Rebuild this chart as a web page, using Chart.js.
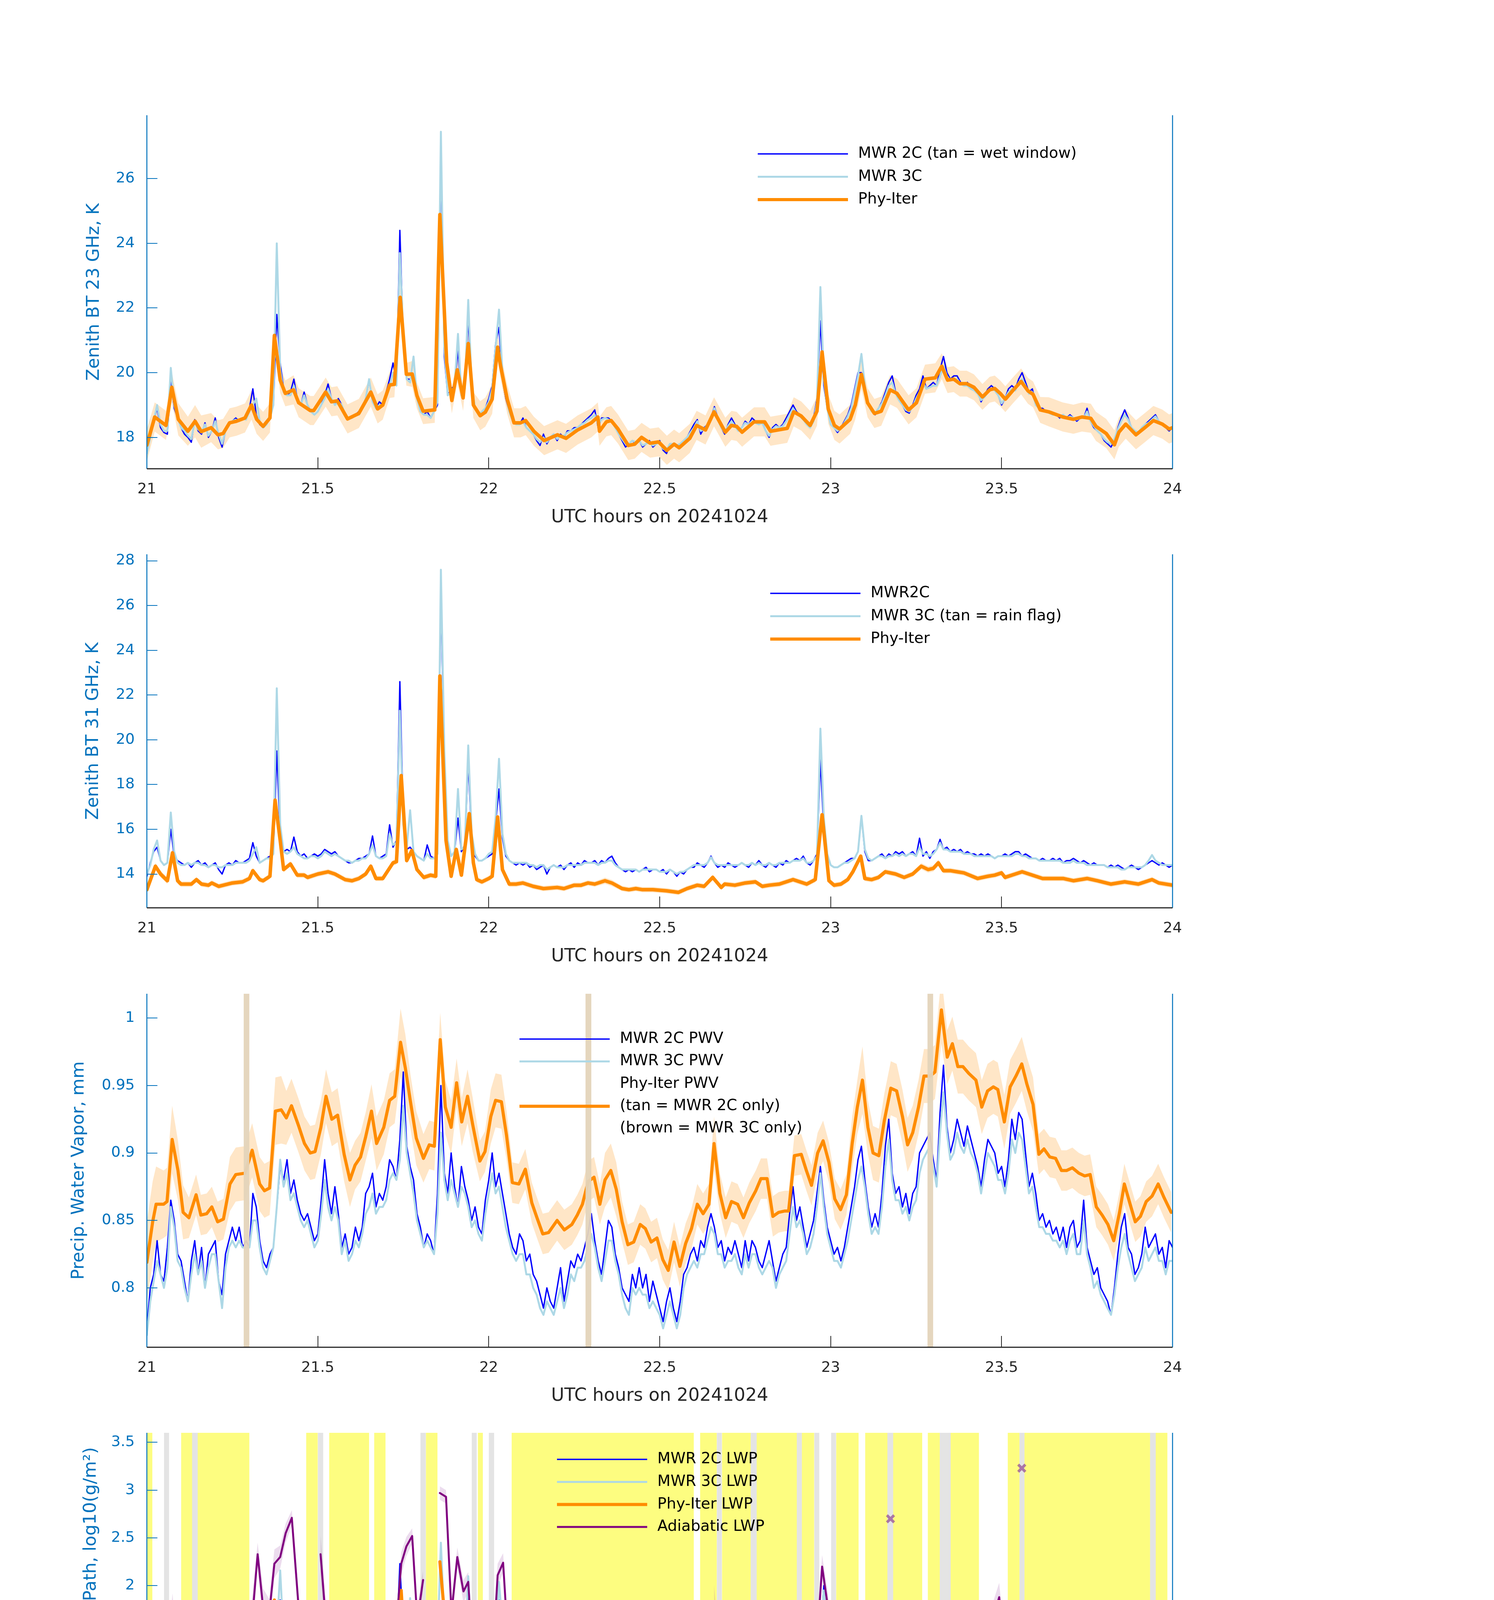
<!DOCTYPE html>
<html>
<head>
<meta charset="utf-8">
<script src="https://cdn.jsdelivr.net/npm/chart.js@4.4.1/dist/chart.umd.min.js"></script>
<style>
  html, body { margin: 0; padding: 0; background: #fff; }
  #fig { position: relative; width: 3825px; height: 6000px; background: #fff; }
  #fig canvas { position: absolute; left: 0; }
</style>
</head>
<body>
<div id="fig">
  <canvas id="bt23"></canvas>
  <canvas id="bt31"></canvas>
  <canvas id="pwv"></canvas>
  <canvas id="lwp"></canvas>
  <canvas id="dq"></canvas>
</div>
<script>
// ---------- data (UTC hours on 20241024) ----------
const tStart = 21;
const mwrStep = 0.01;     // MWR samples
const dqStep = 0.0125;    // Phy-Iter retrievals

// panel 1: 23 GHz zenith BT
const p1Mwr2c = [
  17.7, 18.1, 18.5, 18.9, 18.3, 18.15, 18.1, 19.8, 18.9, 18.6,
  18.3, 18.1, 18.0, 17.85, 18.55, 18.2, 18.1, 18.45, 18.0, 18.2,
  18.6, 18.0, 17.7, 18.2, 18.4, 18.5, 18.6, 18.5, 18.6, 18.6,
  18.9, 19.5, 18.7, 18.4, 18.3, 18.4, 18.6, 19.0, 21.8, 20.3,
  19.5, 19.3, 19.4, 19.8, 19.2, 19.0, 19.4, 19.0, 18.8, 18.7,
  18.8, 19.0, 19.3, 19.65, 19.2, 19.0, 19.2, 19.0, 18.7, 18.6,
  18.6, 18.7, 18.8, 18.9, 19.2, 19.75, 19.2, 18.9, 19.1, 19.0,
  19.4, 19.8, 20.3, 19.7, 24.4, 21.0, 19.8, 19.8, 19.9, 19.2,
  18.8, 18.7, 18.8, 18.6, 18.8, 19.0, 26.7, 20.5, 19.3, 19.5,
  19.6, 20.7, 19.3, 19.6, 21.7, 19.5, 18.9, 18.7, 18.8, 18.9,
  19.2, 19.6, 20.9, 21.4, 19.8, 19.2, 18.8, 18.5, 18.4, 18.4,
  18.6, 18.3, 18.2, 18.1, 17.9, 17.75, 18.1, 17.8, 18.0, 18.1,
  17.9, 18.1, 18.0, 18.2, 18.2, 18.3, 18.3, 18.4, 18.5, 18.6,
  18.7, 18.85, 18.3, 18.6, 18.6, 18.6, 18.5, 18.3, 18.1, 17.9,
  17.7, 17.8, 17.9, 17.8, 17.9, 17.7, 17.8, 17.9, 17.7, 17.8,
  17.9, 17.6, 17.5, 17.8, 17.8, 17.7, 17.8, 17.9, 18.0, 18.2,
  18.4, 18.55, 18.1, 18.3, 18.4, 18.6, 18.95, 18.6, 18.3, 18.1,
  18.4, 18.6, 18.4, 18.2, 18.3, 18.5, 18.4, 18.6, 18.5, 18.4,
  18.5, 18.2, 18.0, 18.3, 18.4, 18.3, 18.4, 18.6, 18.8, 19.0,
  18.8, 18.7, 18.6, 18.4, 18.3, 18.6, 19.2, 21.6, 19.6, 18.9,
  18.4, 18.3, 18.15, 18.3, 18.5, 18.7, 19.0, 19.5, 20.0, 20.0,
  19.5, 19.0, 18.8, 18.7, 18.9, 19.1, 19.4, 19.7, 19.9, 19.4,
  19.2, 19.0, 18.8, 18.75, 19.0, 19.3, 19.5, 19.9, 19.5, 19.6,
  19.7, 19.6, 20.1, 20.5, 20.0, 19.8, 19.9, 19.9, 19.7, 19.6,
  19.7, 19.5, 19.5, 19.4, 19.1, 19.3, 19.5, 19.6, 19.5, 19.3,
  19.0, 19.2, 19.5, 19.6, 19.5, 19.8, 20.0, 19.7, 19.4, 19.5,
  19.0, 18.9, 18.9, 18.8, 18.8, 18.7, 18.7, 18.6, 18.7, 18.6,
  18.7, 18.6, 18.5, 18.6, 18.6, 18.9, 18.5, 18.3, 18.2, 18.1,
  17.9, 17.8, 17.7, 17.9, 18.3, 18.6, 18.85, 18.6, 18.3, 18.2,
  18.1, 18.3, 18.4, 18.5, 18.6, 18.7, 18.5, 18.4, 18.3, 18.2,
  18.3
];
const p1Mwr3c = [
  17.5, 18.0, 18.5, 19.0, 18.4, 18.2, 18.2, 20.15, 19.0, 18.6,
  18.3, 18.2, 18.05, 17.95, 18.5, 18.25, 18.15, 18.4, 18.05, 18.2,
  18.5, 18.1, 17.8, 18.2, 18.4, 18.5, 18.55, 18.5, 18.6, 18.55,
  18.8, 19.0, 19.2, 18.5, 18.3, 18.4, 18.6, 19.0, 24.0, 20.1,
  19.4, 19.3, 19.3, 19.6, 19.2, 19.0, 19.3, 19.0, 18.8, 18.7,
  18.8, 19.0, 19.2, 19.5, 19.2, 19.0, 19.1, 19.0, 18.7, 18.6,
  18.6, 18.7, 18.7, 18.9, 19.2, 19.8, 19.1, 18.9, 19.0, 19.0,
  19.3, 19.6, 20.0, 19.6, 23.7, 21.2, 19.8, 19.7, 20.5, 19.2,
  18.8, 18.7, 18.7, 18.6, 18.8, 19.1, 27.45, 20.8, 19.3, 19.4,
  19.6, 21.2, 19.3, 19.5, 22.25, 19.6, 18.9, 18.7, 18.8, 18.9,
  19.1, 19.5, 20.8, 21.95, 20.0, 19.3, 18.8, 18.5, 18.4, 18.4,
  18.5, 18.3, 18.2, 18.1, 17.95, 17.85, 18.0, 17.85, 18.0, 18.1,
  17.95, 18.05, 18.05, 18.15, 18.2, 18.25, 18.3, 18.4, 18.45, 18.55,
  18.6, 18.7, 18.4, 18.55, 18.6, 18.55, 18.5, 18.3, 18.1, 17.95,
  17.8, 17.8, 17.9, 17.85, 17.9, 17.75, 17.8, 17.85, 17.75, 17.8,
  17.85, 17.65, 17.6, 17.8, 17.8, 17.75, 17.8, 17.9, 18.0, 18.15,
  18.3, 18.5, 18.2, 18.25, 18.4, 18.55, 18.9, 18.55, 18.3, 18.15,
  18.35, 18.5, 18.35, 18.2, 18.3, 18.45, 18.4, 18.5, 18.45, 18.4,
  18.45, 18.2, 18.05, 18.25, 18.35, 18.3, 18.35, 18.5, 18.7, 18.9,
  18.75, 18.65, 18.55, 18.4, 18.3, 18.5, 19.1, 22.65, 19.8, 18.9,
  18.4, 18.3, 18.2, 18.3, 18.45, 18.65, 18.9, 19.4, 19.9, 20.58,
  19.6, 19.0, 18.8, 18.75, 18.9, 19.05, 19.3, 19.6, 19.7, 19.35,
  19.15, 19.0, 18.85, 18.8, 18.95, 19.2, 19.4, 19.7, 19.5, 19.55,
  19.6, 19.6, 19.9, 20.2, 19.9, 19.75, 19.8, 19.8, 19.65, 19.6,
  19.6, 19.5, 19.45, 19.35, 19.15, 19.25, 19.4, 19.5, 19.45, 19.3,
  19.05, 19.2, 19.4, 19.5, 19.45, 19.7, 19.8, 19.6, 19.35, 19.4,
  19.0, 18.9, 18.85, 18.8, 18.75, 18.7, 18.7, 18.65, 18.7, 18.6,
  18.65, 18.6, 18.55, 18.6, 18.6, 18.8, 18.5, 18.35, 18.2, 18.1,
  17.95, 17.85, 17.8, 17.95, 18.25, 18.5, 18.7, 18.55, 18.3, 18.2,
  18.15, 18.3, 18.4, 18.45, 18.55, 18.65, 18.5, 18.4, 18.3, 18.25,
  18.3
];
const p1PhyX = [
  21.0, 21.023, 21.056, 21.073, 21.092, 21.12, 21.141, 21.159, 21.188, 21.208,
  21.223, 21.242, 21.262, 21.287, 21.306, 21.321, 21.34, 21.36, 21.373, 21.39,
  21.405, 21.429, 21.444, 21.478, 21.488, 21.503, 21.523, 21.54, 21.557, 21.587,
  21.62, 21.655, 21.675, 21.69, 21.71, 21.724, 21.741, 21.759, 21.776, 21.79,
  21.808, 21.842, 21.857, 21.877, 21.892, 21.908, 21.925, 21.94, 21.955, 21.975,
  21.99, 22.01, 22.026, 22.034, 22.054, 22.074, 22.093, 22.108, 22.132, 22.162,
  22.201, 22.226, 22.26, 22.3, 22.319, 22.324, 22.344, 22.358, 22.378, 22.408,
  22.427, 22.447, 22.472, 22.497, 22.521, 22.542, 22.557, 22.588, 22.608, 22.634,
  22.659, 22.692, 22.71, 22.725, 22.741, 22.776, 22.807, 22.824, 22.873, 22.892,
  22.914, 22.94, 22.96, 22.975, 22.993, 23.011, 23.026, 23.057, 23.072, 23.09,
  23.108, 23.128, 23.148, 23.174, 23.194, 23.228, 23.251, 23.276, 23.306, 23.325,
  23.342, 23.36, 23.378, 23.398, 23.419, 23.444, 23.465, 23.48, 23.496, 23.511,
  23.532, 23.557, 23.577, 23.592, 23.613, 23.638, 23.679, 23.71, 23.735, 23.761,
  23.776, 23.806, 23.83, 23.843, 23.863, 23.893, 23.919, 23.944, 23.97, 23.99,
  24.0
];
const p1PhyY = [
  17.76, 18.63, 18.37, 19.55, 18.56, 18.19, 18.5, 18.18, 18.3, 18.08,
  18.12, 18.45, 18.5, 18.6, 19.0, 18.56, 18.34, 18.6, 21.15, 19.77,
  19.36, 19.47, 19.07, 18.83, 18.83, 19.07, 19.4, 19.1, 19.13, 18.57,
  18.74, 19.4, 18.88, 19.0, 19.62, 19.64, 22.33, 19.95, 19.96, 19.29,
  18.81, 18.85, 24.89, 20.31, 19.14, 20.09, 19.22, 20.9, 19.0, 18.67,
  18.78, 19.18, 20.79, 20.24, 19.18, 18.45, 18.45, 18.52, 18.19, 17.9,
  18.08, 17.97, 18.23, 18.45, 18.63, 18.19, 18.48, 18.52, 18.26, 17.75,
  17.79, 18.0, 17.82, 17.86, 17.6, 17.79, 17.68, 17.97, 18.37, 18.23,
  18.79, 18.16, 18.37, 18.34, 18.16, 18.48, 18.48, 18.19, 18.28, 18.79,
  18.66, 18.37, 18.81, 20.64, 18.88, 18.37, 18.26, 18.56, 19.0, 19.95,
  19.07, 18.74, 18.81, 19.47, 19.36, 18.85, 19.07, 19.8, 19.84, 20.2,
  19.77, 19.8, 19.66, 19.66, 19.55, 19.25, 19.47, 19.51, 19.36, 19.18,
  19.44, 19.73, 19.44, 19.33, 18.85, 18.79, 18.63, 18.56, 18.63, 18.59,
  18.34, 18.12, 17.77, 18.16, 18.41, 18.08, 18.3, 18.52, 18.41, 18.26,
  18.3
];
const p1PhyUnc = [
  0.5, 0.45, 0.45, 0.45, 0.5, 0.45, 0.5, 0.5, 0.45, 0.45,
  0.45, 0.45, 0.45, 0.45, 0.45, 0.45, 0.45, 0.45, 0.3, 0.4,
  0.4, 0.45, 0.45, 0.45, 0.45, 0.45, 0.45, 0.45, 0.45, 0.45,
  0.45, 0.45, 0.45, 0.45, 0.4, 0.4, 0.3, 0.35, 0.4, 0.4,
  0.4, 0.4, 0.3, 0.4, 0.4, 0.4, 0.4, 0.4, 0.4, 0.45,
  0.45, 0.45, 0.4, 0.4, 0.45, 0.45, 0.45, 0.45, 0.45, 0.45,
  0.45, 0.45, 0.45, 0.45, 0.45, 0.45, 0.45, 0.45, 0.45, 0.45,
  0.45, 0.45, 0.45, 0.45, 0.45, 0.45, 0.45, 0.45, 0.45, 0.45,
  0.45, 0.45, 0.45, 0.45, 0.45, 0.45, 0.45, 0.45, 0.45, 0.45,
  0.45, 0.45, 0.45, 0.4, 0.45, 0.45, 0.45, 0.45, 0.45, 0.45,
  0.45, 0.45, 0.45, 0.45, 0.45, 0.45, 0.45, 0.45, 0.45, 0.4,
  0.4, 0.4, 0.4, 0.4, 0.4, 0.4, 0.4, 0.4, 0.4, 0.4,
  0.4, 0.4, 0.4, 0.4, 0.4, 0.45, 0.45, 0.45, 0.45, 0.45,
  0.45, 0.45, 0.45, 0.45, 0.45, 0.45, 0.45, 0.45, 0.45, 0.45,
  0.45
];

// panel 2: 31 GHz zenith BT
const p2Mwr2c = [
  13.9, 14.5, 15.0, 15.2, 14.6, 14.4, 14.5, 16.0, 14.8, 14.6,
  14.5, 14.4, 14.5, 14.3, 14.5, 14.6, 14.4, 14.5, 14.3, 14.4,
  14.5, 14.2, 14.0, 14.4, 14.5, 14.4, 14.6, 14.5, 14.5, 14.6,
  14.7, 15.4, 14.8, 14.5, 14.6, 14.7, 14.8, 14.9, 19.5, 15.8,
  15.0, 15.1, 15.0, 15.65, 15.0, 14.8, 14.9, 14.7, 14.8, 14.9,
  14.8, 14.9, 15.1, 15.0, 14.9, 15.0, 14.8, 14.7, 14.6, 14.5,
  14.5, 14.6, 14.7, 14.7, 14.8, 14.9, 15.7, 14.8, 14.7, 14.8,
  14.9, 16.2, 15.2, 15.5, 22.6, 16.5, 15.1, 15.2, 15.0, 14.8,
  14.7, 14.6, 15.3, 14.8, 14.7, 14.9, 26.5, 19.0, 15.5, 14.8,
  15.0, 16.5, 15.0, 15.3, 19.0, 15.6, 14.8, 14.6, 14.6, 14.7,
  14.8, 14.9, 16.3, 17.8, 15.6, 14.8, 14.6, 14.5, 14.4, 14.5,
  14.4, 14.5, 14.3, 14.4, 14.2, 14.3, 14.4, 14.0, 14.3, 14.4,
  14.3, 14.4, 14.2, 14.4, 14.5, 14.3, 14.5, 14.4, 14.6, 14.5,
  14.5, 14.6, 14.4, 14.6, 14.5, 14.7, 14.8, 14.5, 14.3, 14.2,
  14.1, 14.2, 14.1, 14.2, 14.1, 14.2, 14.3, 14.1, 14.2, 14.2,
  14.1, 14.2, 14.0, 14.2, 14.1, 13.9, 14.1, 14.0, 14.2, 14.3,
  14.3, 14.5, 14.4, 14.3, 14.5, 14.8, 14.5, 14.3, 14.4, 14.3,
  14.5, 14.4, 14.3, 14.4, 14.5, 14.4, 14.3, 14.5, 14.4, 14.6,
  14.4, 14.3, 14.5, 14.4, 14.3, 14.5, 14.4, 14.6, 14.5, 14.6,
  14.7, 14.6, 14.8, 14.5, 14.4, 14.6, 14.9, 19.1, 16.0, 14.8,
  14.4, 14.3, 14.3, 14.4, 14.5, 14.6, 14.7, 14.7, 15.0, 16.6,
  15.0, 14.6, 14.6, 14.7, 14.8, 14.9, 14.7, 14.9, 14.8, 15.0,
  14.9, 15.0, 14.8, 14.9, 15.0, 14.8, 15.6, 14.8, 15.0, 14.7,
  15.0, 15.1, 15.55, 15.1, 15.2, 15.0, 15.1, 15.0, 15.1, 14.9,
  15.0, 14.9, 14.9, 14.8, 14.9, 14.8, 14.9, 14.8, 14.7, 14.8,
  14.8, 14.9, 14.8, 14.9, 15.0, 15.0, 14.8, 14.9, 14.8, 14.7,
  14.7, 14.6, 14.7, 14.6, 14.6, 14.7, 14.6, 14.7, 14.5, 14.6,
  14.6, 14.7, 14.6, 14.5, 14.6, 14.5, 14.4, 14.5, 14.4, 14.4,
  14.4, 14.3, 14.4, 14.3, 14.4, 14.3, 14.2, 14.3, 14.4, 14.3,
  14.2, 14.3, 14.4, 14.5, 14.6, 14.5, 14.4, 14.5, 14.4, 14.3,
  14.4
];
const p2Mwr3c = [
  14.0, 14.4, 15.1, 15.5, 14.6, 14.4, 14.5, 16.75, 15.0, 14.5,
  14.4, 14.4, 14.5, 14.4, 14.5, 14.5, 14.4, 14.4, 14.3, 14.4,
  14.4, 14.3, 14.3, 14.4, 14.4, 14.4, 14.5, 14.5, 14.5, 14.5,
  14.6, 14.9, 15.2, 14.5, 14.6, 14.7, 14.7, 14.9, 22.3, 16.2,
  15.0, 14.9, 15.0, 15.2, 14.9, 14.8, 14.7, 14.7, 14.8, 14.8,
  14.7, 14.8, 15.0, 14.9, 14.8, 14.9, 14.8, 14.7, 14.6, 14.6,
  14.5, 14.6, 14.6, 14.7, 14.7, 14.9, 15.3, 14.8, 14.7, 14.7,
  14.8, 15.8, 15.3, 15.4, 21.3, 16.2, 15.2, 16.85, 15.0, 14.8,
  14.7, 14.6, 14.9, 14.7, 14.7, 14.9, 27.6, 19.5, 15.5, 14.8,
  15.0, 17.8, 15.1, 15.2, 19.75, 15.8, 14.9, 14.6, 14.6, 14.7,
  14.9, 15.0, 16.5, 19.15, 15.8, 14.9, 14.6, 14.5, 14.5, 14.5,
  14.5, 14.5, 14.4, 14.4, 14.3, 14.4, 14.4, 14.2, 14.3, 14.4,
  14.3, 14.3, 14.3, 14.4, 14.4, 14.4, 14.4, 14.4, 14.5, 14.5,
  14.5, 14.5, 14.4, 14.5, 14.5, 14.6, 14.6, 14.4, 14.3, 14.2,
  14.2, 14.2, 14.2, 14.2, 14.1, 14.2, 14.2, 14.2, 14.2, 14.2,
  14.1, 14.1, 14.1, 14.2, 14.1, 14.0, 14.1, 14.1, 14.2, 14.3,
  14.4, 14.4, 14.4, 14.4, 14.5, 14.75, 14.5, 14.4, 14.4, 14.4,
  14.4, 14.4, 14.4, 14.4, 14.5, 14.4, 14.4, 14.5, 14.4, 14.5,
  14.4, 14.4, 14.5, 14.4, 14.4, 14.5, 14.5, 14.5, 14.5, 14.6,
  14.6, 14.6, 14.7, 14.5, 14.5, 14.6, 14.8, 20.5, 16.5, 14.9,
  14.4, 14.3, 14.3, 14.4, 14.5, 14.5, 14.6, 14.7, 15.0, 16.6,
  15.1, 14.7, 14.6, 14.7, 14.8, 14.8, 14.7, 14.8, 14.8, 14.9,
  14.8, 14.9, 14.8, 14.9, 14.9, 14.8, 15.2, 14.9, 14.9, 14.8,
  14.9, 15.1, 15.4, 15.1, 15.1, 15.0, 15.0, 15.0, 15.0, 14.9,
  14.9, 14.9, 14.8, 14.8, 14.8, 14.8, 14.8, 14.8, 14.7, 14.8,
  14.8, 14.8, 14.8, 14.8, 14.9, 14.9, 14.8, 14.8, 14.7, 14.7,
  14.7, 14.6, 14.6, 14.6, 14.6, 14.6, 14.6, 14.6, 14.5, 14.5,
  14.5, 14.6, 14.5, 14.5, 14.5, 14.4, 14.4, 14.4, 14.4, 14.4,
  14.4, 14.3, 14.3, 14.3, 14.3, 14.2, 14.2, 14.3, 14.3, 14.3,
  14.3, 14.3, 14.4, 14.6, 14.85, 14.6, 14.5, 14.4, 14.4, 14.4,
  14.4
];
const p2PhyX = [
  21.0, 21.025, 21.04, 21.06, 21.075, 21.09, 21.10, 21.13, 21.145, 21.16,
  21.18, 21.19, 21.21, 21.25, 21.28, 21.30, 21.31, 21.33, 21.34, 21.36,
  21.375, 21.39, 21.40, 21.42, 21.44, 21.46, 21.47, 21.50, 21.53, 21.55,
  21.58, 21.60, 21.62, 21.64, 21.655, 21.67, 21.69, 21.72, 21.73, 21.744,
  21.76, 21.775, 21.79, 21.81, 21.83, 21.845, 21.857, 21.875, 21.89, 21.905,
  21.92, 21.943, 21.955, 21.965, 21.98, 22.0, 22.01, 22.026, 22.04, 22.06,
  22.08, 22.10, 22.13, 22.16, 22.20, 22.22, 22.25, 22.27, 22.29, 22.31,
  22.34, 22.36, 22.39, 22.41, 22.43, 22.45, 22.48, 22.52, 22.555, 22.58,
  22.61, 22.63, 22.655, 22.68, 22.69, 22.72, 22.75, 22.78, 22.80, 22.82,
  22.85, 22.89, 22.93, 22.955, 22.975, 22.995, 23.01, 23.03, 23.05, 23.065,
  23.088, 23.10, 23.12, 23.14, 23.16, 23.19, 23.215, 23.24, 23.265, 23.285,
  23.30, 23.315, 23.33, 23.35, 23.37, 23.39, 23.43, 23.46, 23.48, 23.50,
  23.51, 23.54, 23.56, 23.58, 23.62, 23.68, 23.71, 23.75, 23.78, 23.82,
  23.86, 23.90, 23.94, 23.96, 24.0
];
const p2PhyY = [
  13.3, 14.35, 14.0, 13.7, 14.95, 13.7, 13.55, 13.55, 13.75, 13.55,
  13.5, 13.6, 13.45, 13.6, 13.65, 13.8, 14.15, 13.75, 13.7, 13.9,
  17.3, 15.5, 14.2, 14.45, 13.95, 13.95, 13.85, 14.0, 14.1, 14.0,
  13.75, 13.7, 13.8, 14.0, 14.35, 13.8, 13.8, 14.5, 14.55, 18.4,
  14.6, 15.05, 14.2, 13.85, 13.95, 13.9, 22.85, 15.5, 13.9, 15.1,
  13.95, 16.7, 14.5, 13.75, 13.65, 13.8, 13.9, 16.55, 14.2, 13.55,
  13.55, 13.6, 13.45, 13.35, 13.4, 13.35, 13.5, 13.5, 13.6, 13.55,
  13.7, 13.6, 13.35, 13.3, 13.35, 13.3, 13.3, 13.25, 13.18, 13.35,
  13.5, 13.45, 13.85, 13.4, 13.55, 13.5, 13.6, 13.65, 13.45, 13.5,
  13.55, 13.75, 13.55, 13.75, 16.65, 13.7, 13.5, 13.55, 13.75, 14.1,
  14.8, 13.8, 13.75, 13.85, 14.1, 14.0, 13.85, 14.0, 14.35, 14.2,
  14.25, 14.5, 14.15, 14.15, 14.1, 14.05, 13.8, 13.9, 13.95, 14.05,
  13.85, 14.0, 14.1, 14.0, 13.8, 13.8, 13.7, 13.8, 13.7, 13.55,
  13.65, 13.55, 13.75, 13.6, 13.5
];
const p2PhyUnc = [
  0.15, 0.15, 0.15, 0.15, 0.15, 0.15, 0.12, 0.12, 0.12, 0.12,
  0.12, 0.12, 0.12, 0.12, 0.12, 0.12, 0.12, 0.12, 0.12, 0.12,
  0.12, 0.12, 0.12, 0.12, 0.12, 0.12, 0.12, 0.12, 0.12, 0.12,
  0.12, 0.12, 0.12, 0.12, 0.12, 0.12, 0.12, 0.12, 0.12, 0.12,
  0.12, 0.12, 0.12, 0.12, 0.12, 0.12, 0.12, 0.12, 0.12, 0.12,
  0.12, 0.12, 0.12, 0.12, 0.12, 0.12, 0.12, 0.12, 0.12, 0.12,
  0.12, 0.12, 0.12, 0.12, 0.12, 0.12, 0.12, 0.12, 0.12, 0.12,
  0.14, 0.14, 0.12, 0.12, 0.12, 0.12, 0.12, 0.12, 0.12, 0.12,
  0.12, 0.12, 0.12, 0.12, 0.12, 0.12, 0.12, 0.12, 0.12, 0.12,
  0.12, 0.12, 0.12, 0.12, 0.12, 0.12, 0.12, 0.12, 0.12, 0.12,
  0.12, 0.12, 0.12, 0.12, 0.12, 0.12, 0.12, 0.12, 0.14, 0.14,
  0.14, 0.14, 0.12, 0.12, 0.12, 0.12, 0.12, 0.12, 0.12, 0.12,
  0.12, 0.12, 0.12, 0.12, 0.12, 0.12, 0.12, 0.12, 0.12, 0.12,
  0.12, 0.12, 0.12, 0.12, 0.12
];

// panel 3: precipitable water vapour
const p3Mwr2c = [
  0.77, 0.80, 0.81, 0.835, 0.81, 0.805, 0.83, 0.865, 0.85, 0.825,
  0.82, 0.805, 0.79, 0.82, 0.835, 0.81, 0.83, 0.80, 0.825, 0.83,
  0.835, 0.805, 0.795, 0.825, 0.835, 0.845, 0.835, 0.845, 0.83, 0.835,
  0.83, 0.87, 0.86, 0.835, 0.82, 0.815, 0.825, 0.83, 0.86, 0.89,
  0.88, 0.895, 0.87, 0.88, 0.865, 0.855, 0.85, 0.855, 0.845, 0.835,
  0.84, 0.865, 0.895, 0.87, 0.855, 0.875, 0.855, 0.83, 0.84, 0.825,
  0.83, 0.845, 0.835, 0.845, 0.87, 0.875, 0.885, 0.86, 0.87, 0.865,
  0.875, 0.895, 0.89, 0.88, 0.91, 0.96, 0.905, 0.89, 0.88, 0.855,
  0.845, 0.83, 0.84, 0.835, 0.825, 0.87, 0.95, 0.885, 0.87, 0.9,
  0.875, 0.86, 0.89, 0.875, 0.865, 0.85, 0.86, 0.845, 0.84, 0.865,
  0.88, 0.9, 0.875, 0.885, 0.87, 0.855, 0.84, 0.83, 0.825, 0.84,
  0.835, 0.82, 0.825, 0.81, 0.805, 0.795, 0.785, 0.80, 0.79, 0.785,
  0.80, 0.815, 0.79, 0.805, 0.82, 0.815, 0.825, 0.82, 0.83, 0.84,
  0.855, 0.835, 0.82, 0.81, 0.83, 0.85, 0.845, 0.825, 0.815, 0.80,
  0.795, 0.79, 0.81, 0.80, 0.815, 0.80, 0.81, 0.79, 0.805, 0.795,
  0.785, 0.775, 0.79, 0.80, 0.785, 0.775, 0.79, 0.81, 0.815, 0.825,
  0.83, 0.82, 0.835, 0.83, 0.845, 0.855, 0.845, 0.83, 0.835, 0.82,
  0.83, 0.825, 0.835, 0.825, 0.815, 0.835, 0.82, 0.835, 0.83, 0.82,
  0.815, 0.825, 0.835, 0.82, 0.805, 0.815, 0.825, 0.83, 0.855, 0.875,
  0.85, 0.86, 0.845, 0.83, 0.84, 0.85, 0.87, 0.89, 0.865, 0.845,
  0.835, 0.825, 0.83, 0.82, 0.83, 0.845, 0.86, 0.875, 0.895, 0.905,
  0.88, 0.86, 0.845, 0.855, 0.845, 0.87, 0.905, 0.925, 0.885, 0.87,
  0.875, 0.86, 0.87, 0.855, 0.87, 0.875, 0.90, 0.905, 0.91, 0.915,
  0.895, 0.88, 0.93, 0.965, 0.92, 0.90, 0.91, 0.925, 0.915, 0.905,
  0.92, 0.91, 0.90, 0.89, 0.875, 0.895, 0.91, 0.905, 0.90, 0.885,
  0.89, 0.875, 0.895, 0.925, 0.91, 0.93, 0.925, 0.90, 0.875, 0.885,
  0.87, 0.85, 0.855, 0.845, 0.85, 0.84, 0.845, 0.835, 0.845, 0.83,
  0.845, 0.85, 0.83, 0.835, 0.865, 0.83, 0.82, 0.81, 0.815, 0.80,
  0.795, 0.79, 0.78, 0.80, 0.825, 0.845, 0.855, 0.83, 0.825, 0.81,
  0.815, 0.825, 0.845, 0.83, 0.835, 0.84, 0.825, 0.83, 0.815, 0.835,
  0.83
];
const p3Mwr3c = [
  0.765, 0.79, 0.805, 0.82, 0.81, 0.80, 0.815, 0.86, 0.845, 0.82,
  0.815, 0.80, 0.79, 0.81, 0.825, 0.81, 0.82, 0.80, 0.815, 0.825,
  0.825, 0.805, 0.785, 0.815, 0.83, 0.835, 0.83, 0.835, 0.83, 0.83,
  0.83, 0.85, 0.85, 0.83, 0.815, 0.81, 0.82, 0.83, 0.86, 0.895,
  0.875, 0.885, 0.865, 0.87, 0.86, 0.85, 0.845, 0.85, 0.84, 0.83,
  0.835, 0.855, 0.88, 0.86, 0.85, 0.86, 0.85, 0.825, 0.835, 0.82,
  0.825, 0.835, 0.83, 0.84, 0.855, 0.86, 0.87, 0.855, 0.86, 0.86,
  0.865, 0.88, 0.885, 0.88, 0.895, 0.935, 0.9, 0.885, 0.87, 0.85,
  0.84, 0.83, 0.835, 0.83, 0.825, 0.855, 0.915, 0.88, 0.865, 0.88,
  0.87, 0.86, 0.875, 0.87, 0.86, 0.845, 0.85, 0.84, 0.835, 0.855,
  0.87, 0.885, 0.87, 0.875, 0.86, 0.845, 0.835, 0.825, 0.82, 0.825,
  0.825, 0.81, 0.81, 0.80, 0.795, 0.785, 0.78, 0.79, 0.785, 0.78,
  0.79, 0.80, 0.785, 0.795, 0.81, 0.805, 0.815, 0.815, 0.82, 0.83,
  0.84, 0.83, 0.815, 0.805, 0.82, 0.835, 0.835, 0.82, 0.81, 0.795,
  0.785, 0.78, 0.80, 0.795, 0.80, 0.795, 0.795, 0.785, 0.79, 0.785,
  0.78, 0.77, 0.78, 0.79, 0.78, 0.77, 0.78, 0.80, 0.81, 0.815,
  0.82, 0.815, 0.825, 0.825, 0.835, 0.845, 0.84, 0.825, 0.825, 0.815,
  0.82, 0.82, 0.825, 0.815, 0.81, 0.825, 0.815, 0.825, 0.825, 0.815,
  0.81, 0.815, 0.82, 0.815, 0.80, 0.81, 0.815, 0.82, 0.84, 0.86,
  0.845, 0.85, 0.84, 0.825, 0.83, 0.84, 0.86, 0.885, 0.86, 0.84,
  0.83, 0.82, 0.82, 0.815, 0.825, 0.835, 0.85, 0.865, 0.88, 0.89,
  0.875, 0.855, 0.84, 0.845, 0.84, 0.86, 0.89, 0.91, 0.88, 0.865,
  0.865, 0.855, 0.86, 0.85, 0.86, 0.865, 0.885, 0.895, 0.9, 0.905,
  0.89, 0.875, 0.915, 0.945, 0.915, 0.895, 0.9, 0.915, 0.905, 0.9,
  0.91, 0.9, 0.895, 0.885, 0.87, 0.885, 0.9, 0.895, 0.89, 0.88,
  0.88, 0.87, 0.885, 0.91, 0.9, 0.915, 0.91, 0.89, 0.87, 0.875,
  0.86, 0.845, 0.845, 0.84, 0.84, 0.835, 0.835, 0.83, 0.835, 0.825,
  0.835, 0.84, 0.825, 0.825, 0.85, 0.825, 0.815, 0.80, 0.805, 0.795,
  0.79, 0.785, 0.78, 0.795, 0.815, 0.83, 0.84, 0.825, 0.815, 0.805,
  0.81, 0.815, 0.83, 0.82, 0.825, 0.83, 0.82, 0.82, 0.81, 0.82,
  0.82
];
const p3PhyX = [
  21.0, 21.017, 21.027, 21.049, 21.059, 21.074, 21.091, 21.106, 21.123, 21.144,
  21.158, 21.175, 21.19, 21.207, 21.224, 21.243, 21.26, 21.287, 21.308, 21.33,
  21.344, 21.359, 21.376, 21.393, 21.408, 21.423, 21.444, 21.461, 21.478, 21.492,
  21.509, 21.524, 21.541, 21.558, 21.577, 21.594, 21.609, 21.625, 21.64, 21.657,
  21.672, 21.693, 21.71, 21.725, 21.742, 21.756, 21.771, 21.788, 21.809, 21.826,
  21.841, 21.858, 21.873, 21.89, 21.906, 21.921, 21.938, 21.953, 21.974, 21.989,
  22.006, 22.02, 22.037, 22.052, 22.069, 22.088, 22.107, 22.126, 22.141, 22.158,
  22.175, 22.2, 22.221, 22.243, 22.259, 22.274, 22.291, 22.308, 22.325, 22.34,
  22.357, 22.373, 22.39, 22.407, 22.424, 22.443, 22.458, 22.475, 22.492, 22.509,
  22.525, 22.542, 22.559, 22.576, 22.593, 22.61, 22.627, 22.644, 22.659, 22.676,
  22.693, 22.71, 22.728, 22.745, 22.762, 22.781, 22.796, 22.814, 22.831, 22.848,
  22.866, 22.877, 22.894, 22.914, 22.929, 22.944, 22.962, 22.978, 22.995, 23.012,
  23.029, 23.046, 23.063, 23.078, 23.093, 23.109, 23.124, 23.141, 23.157, 23.176,
  23.193, 23.21, 23.225, 23.24, 23.257, 23.273, 23.291, 23.305, 23.324, 23.341,
  23.356, 23.372, 23.387, 23.404, 23.425, 23.442, 23.459, 23.476, 23.489, 23.508,
  23.525, 23.542, 23.559, 23.574, 23.592, 23.609, 23.624, 23.641, 23.658, 23.675,
  23.69, 23.707, 23.726, 23.743, 23.759, 23.777, 23.794, 23.811, 23.828, 23.845,
  23.859, 23.876, 23.891, 23.906, 23.923, 23.94, 23.958, 23.975, 23.996
];
const p3PhyY = [
  0.819, 0.849, 0.862, 0.862, 0.864, 0.910, 0.887, 0.856, 0.852, 0.869,
  0.854, 0.855, 0.860, 0.849, 0.851, 0.877, 0.884, 0.885, 0.902, 0.877,
  0.872, 0.874, 0.931, 0.932, 0.926, 0.935, 0.920, 0.907, 0.900, 0.901,
  0.919, 0.942, 0.925, 0.928, 0.899, 0.880, 0.891, 0.897, 0.912, 0.931,
  0.907, 0.919, 0.939, 0.942, 0.982, 0.963, 0.938, 0.911, 0.896, 0.906,
  0.905, 0.984, 0.934, 0.919, 0.952, 0.923, 0.942, 0.921, 0.894, 0.901,
  0.927, 0.939, 0.938, 0.913, 0.878, 0.877, 0.888, 0.863, 0.852, 0.840,
  0.841, 0.850, 0.843, 0.847, 0.854, 0.862, 0.879, 0.882, 0.862, 0.880,
  0.887, 0.873, 0.849, 0.832, 0.834, 0.847, 0.844, 0.834, 0.837, 0.821,
  0.813, 0.834, 0.816, 0.833, 0.844, 0.862, 0.855, 0.862, 0.907, 0.870,
  0.852, 0.864, 0.862, 0.852, 0.863, 0.872, 0.881, 0.881, 0.853, 0.856,
  0.857, 0.857, 0.898, 0.899, 0.887, 0.876, 0.900, 0.909, 0.893, 0.866,
  0.858, 0.869, 0.907, 0.934, 0.954, 0.919, 0.900, 0.898, 0.924, 0.948,
  0.946, 0.927, 0.906, 0.915, 0.934, 0.957, 0.957, 0.960, 1.006, 0.971,
  0.981, 0.964, 0.964, 0.959, 0.954, 0.934, 0.946, 0.949, 0.947, 0.923,
  0.949, 0.957, 0.966, 0.951, 0.936, 0.899, 0.903, 0.897, 0.896, 0.887,
  0.887, 0.889, 0.885, 0.883, 0.884, 0.860, 0.854, 0.847, 0.835, 0.856,
  0.877, 0.862, 0.849, 0.853, 0.864, 0.868, 0.877, 0.867, 0.856
];
const p3PhyUnc = [
  0.03, 0.03, 0.028, 0.025, 0.025, 0.025, 0.022, 0.02, 0.015, 0.015,
  0.015, 0.015, 0.015, 0.015, 0.015, 0.02, 0.02, 0.02, 0.02, 0.02,
  0.02, 0.02, 0.025, 0.025, 0.02, 0.02, 0.02, 0.02, 0.02, 0.02,
  0.02, 0.02, 0.02, 0.02, 0.02, 0.02, 0.018, 0.018, 0.018, 0.02,
  0.02, 0.02, 0.02, 0.02, 0.025, 0.025, 0.02, 0.02, 0.018, 0.018,
  0.018, 0.02, 0.02, 0.02, 0.018, 0.018, 0.02, 0.02, 0.015, 0.015,
  0.02, 0.02, 0.02, 0.018, 0.015, 0.015, 0.015, 0.015, 0.015, 0.015,
  0.015, 0.015, 0.015, 0.015, 0.015, 0.015, 0.015, 0.015, 0.015, 0.02,
  0.02, 0.02, 0.015, 0.015, 0.015, 0.015, 0.015, 0.015, 0.015, 0.015,
  0.015, 0.015, 0.015, 0.015, 0.015, 0.015, 0.015, 0.015, 0.02, 0.015,
  0.015, 0.015, 0.015, 0.015, 0.015, 0.015, 0.015, 0.015, 0.015, 0.015,
  0.015, 0.015, 0.015, 0.015, 0.015, 0.015, 0.015, 0.015, 0.015, 0.015,
  0.015, 0.015, 0.02, 0.02, 0.025, 0.02, 0.02, 0.02, 0.02, 0.02,
  0.02, 0.02, 0.02, 0.02, 0.02, 0.02, 0.02, 0.02, 0.025, 0.02,
  0.02, 0.02, 0.02, 0.02, 0.02, 0.02, 0.02, 0.02, 0.02, 0.02,
  0.02, 0.02, 0.02, 0.02, 0.02, 0.015, 0.015, 0.015, 0.015, 0.015,
  0.015, 0.015, 0.015, 0.015, 0.015, 0.015, 0.015, 0.015, 0.015, 0.015,
  0.015, 0.015, 0.015, 0.015, 0.015, 0.015, 0.015, 0.015, 0.015
];
const p3MwrOnlyFlags = [[21.283, 21.300], [22.283, 22.300], [23.283, 23.300]];

// panel 4: liquid water path, log10(g/m2)
const p4CloudSpans = [
  [21.0, 21.016], [21.10, 21.30], [21.466, 21.50], [21.533, 21.65], [21.665, 21.698],
  [21.816, 21.85], [21.968, 21.983], [22.067, 22.600], [22.618, 22.667], [22.682, 22.952],
  [23.016, 23.082], [23.101, 23.268], [23.284, 23.434], [23.518, 23.985]
];
const p4FlagStripes = [
  [21.05, 21.065], [21.132, 21.149], [21.50, 21.516], [21.80, 21.816], [21.95, 21.965],
  [22.0, 22.016], [22.667, 22.682], [22.766, 22.784], [22.901, 22.916], [22.952, 22.967],
  [23.001, 23.016], [23.166, 23.183], [23.319, 23.351], [23.552, 23.567], [23.934, 23.951]
];
const p4Mwr2cClear = [
  1.28, 1.30, 1.33, 1.30, 1.28, 1.30, 1.32, 1.35, 1.33, 1.31,
  1.35, 1.32, 1.30, 1.33, 1.34, 1.30, 1.32, 1.33, 1.28, 1.30,
  1.27, 1.21, 1.29, 1.30, 1.25, 1.31, 1.29, 1.32, 1.27, 1.30,
  1.33, 1.30, 1.32, 1.30, 1.34, 1.32, 1.36, 1.33, 1.31, 1.35,
  1.33, 1.30, 1.34, 1.31, 1.33, 1.30, 1.34, 1.31, 1.33, 1.38,
  1.30, 1.34, 1.40, 1.36, 1.38, 1.33, 1.36, 1.29, 1.33, 1.30,
  1.28, 1.32, 1.34, 1.30, 1.36, 1.29, 1.35, 1.30, 1.25, 1.28,
  1.30, 1.35, 1.32, 1.33, 1.31, 1.34, 1.32, 1.30, 1.33, 1.31,
  1.32, 1.34, 1.52, 1.36, 1.33, 1.31, 1.35, 1.33, 1.30, 1.32,
  1.31, 1.33, 1.30, 1.32, 1.34, 1.31, 1.28, 1.33, 1.30, 1.32,
  1.29, 1.30, 1.25, 1.33, 1.36, 1.30, 1.23, 1.30, 1.27, 1.32,
  1.25, 1.30, 1.31, 1.25, 1.20, 1.12, 1.40, 1.33, 1.30, 1.31,
  1.32, 1.25, 1.31, 1.27, 1.30, 1.29, 1.28, 1.30, 1.22, 1.28,
  1.32, 1.35, 1.30, 1.37, 1.31, 1.40, 1.30, 1.33, 1.29, 1.27,
  1.25, 1.28, 1.24, 1.29, 1.26, 1.22, 1.27, 1.25, 1.28, 1.24,
  1.26, 1.23, 1.27, 1.25, 1.28, 1.22, 1.26, 1.24, 1.35, 1.27,
  1.30, 1.28, 1.25, 1.33, 1.38, 1.35, 1.30, 1.28, 1.32, 1.20,
  1.30, 1.34, 1.32, 1.30, 1.33, 1.36, 1.35, 1.30, 1.28, 1.33,
  1.30, 1.35, 1.23, 1.30, 1.34, 1.32, 1.36, 1.30, 1.25, 1.32,
  1.35, 1.30, 1.28, 1.32, 1.30, 1.27, 1.33, 1.35, 1.30, 1.31,
  1.28, 1.30, 1.26, 1.31, 1.35, 1.40, 1.30, 1.33, 1.36, 1.34,
  1.32, 1.30, 1.28, 1.33, 1.35, 1.30, 1.37, 1.31, 1.29, 1.34,
  1.33, 1.29, 1.38, 1.31, 1.35, 1.30, 1.34, 1.32, 1.29, 1.31,
  1.33, 1.42, 1.35, 1.30, 1.45, 1.35, 1.40, 1.30, 1.32, 1.38,
  1.33, 1.30, 1.28, 1.35, 1.30, 1.27, 1.32, 1.30, 1.28, 1.31,
  1.33, 1.30, 1.35, 1.38, 1.33, 1.37, 1.32, 1.30, 1.36, 1.33,
  1.31, 1.35, 1.30, 1.32, 1.40, 1.35, 1.33, 1.30, 1.28, 1.33,
  1.30, 1.34, 1.29, 1.31, 1.33, 1.36, 1.30, 1.28, 1.31, 1.33,
  1.27, 1.22, 1.28, 1.24, 1.30, 1.27, 1.25, 1.30, 1.28, 1.33,
  1.30, 1.28, 1.33, 1.31, 1.35, 1.30, 1.29, 1.32, 1.30, 1.28,
  1.29
];
const p4Mwr3cClear = [   // every 0.02 h
  1.28, 1.30, 1.31, 1.30, 1.32, 1.30, 1.31, 1.29, 1.30, 1.31,
  1.29, 1.30, 1.31, 1.30, 1.32, 1.31, 1.33, 1.32, 1.33, 1.34,
  1.32, 1.33, 1.34, 1.32, 1.33, 1.34, 1.35, 1.33, 1.32, 1.33,
  1.31, 1.32, 1.33, 1.32, 1.31, 1.33, 1.32, 1.33, 1.34, 1.32,
  1.33, 1.34, 1.32, 1.33, 1.31, 1.32, 1.33, 1.31, 1.32, 1.30,
  1.31, 1.30, 1.29, 1.30, 1.28, 1.29, 1.30, 1.28, 1.29, 1.30,
  1.29, 1.28, 1.30, 1.29, 1.28, 1.30, 1.29, 1.30, 1.28, 1.29,
  1.27, 1.28, 1.26, 1.27, 1.28, 1.26, 1.27, 1.28, 1.27, 1.28,
  1.29, 1.30, 1.31, 1.30, 1.32, 1.31, 1.30, 1.31, 1.32, 1.30,
  1.31, 1.30, 1.32, 1.31, 1.30, 1.31, 1.32, 1.30, 1.31, 1.30,
  1.31, 1.32, 1.30, 1.31, 1.33, 1.32, 1.31, 1.33, 1.34, 1.32,
  1.33, 1.32, 1.34, 1.33, 1.35, 1.34, 1.36, 1.35, 1.34, 1.33,
  1.34, 1.33, 1.32, 1.31, 1.33, 1.32, 1.31, 1.33, 1.34, 1.33,
  1.32, 1.33, 1.31, 1.32, 1.33, 1.31, 1.32, 1.30, 1.31, 1.32,
  1.30, 1.31, 1.30, 1.29, 1.31, 1.30, 1.31, 1.32, 1.30, 1.31,
  1.30
];
const p4CloudSegStart = [21.01, 21.30, 21.70, 22.60, 22.96, 23.09, 23.25, 23.34, 23.43];
const p4Mwr2cSeg = [
  [1.30, 1.58, 1.52, 1.30, 1.30, 1.32, 1.60, 1.38, 1.33, 1.37],
  [1.30, 1.55, 1.33, 1.28, 1.35, 1.30, 1.38, 1.33, 1.55, 1.85, 1.35, 1.30, 1.45, 1.35, 1.59, 1.30, 1.38, 1.32],
  [1.33, 1.69, 1.45, 1.40, 2.23, 1.50, 1.45, 1.70, 1.35, 1.30, 1.35, 1.32, 1.30, 1.33, 1.31, 1.40, 2.42, 1.55, 1.45, 1.38,
   1.30, 1.55, 1.42, 1.30, 1.90, 1.30, 1.33, 1.30, 1.32, 1.28, 1.25, 1.28, 1.30, 1.85, 1.55, 1.35, 1.22],
  [1.25, 1.30, 1.22, 1.32, 1.35, 1.41, 1.33, 1.30, 1.32, 1.28],
  [1.35, 1.45, 2.00, 1.50, 1.30, 1.28],
  [1.35, 1.75, 1.40],
  [1.30, 1.35, 1.56, 1.42, 1.38, 1.35],
  [1.33, 1.49, 1.32],
  [1.30, 1.24, 1.28, 1.22, 1.30, 1.25, 1.30, 1.37, 1.30]
];
const p4Mwr3cSeg = [
  [1.30, 1.55, 1.63, 1.35, 1.30, 1.30, 1.82, 1.40, 1.33, 1.35],
  [1.30, 1.40, 1.25, 1.30, 1.33, 1.30, 1.35, 1.35, 1.50, 2.16, 1.45, 1.30, 1.38, 1.33, 1.45, 1.32, 1.35, 1.32],
  [1.33, 1.55, 1.50, 1.40, 1.95, 1.55, 1.50, 1.87, 1.40, 1.32, 1.34, 1.30, 1.32, 1.33, 1.31, 1.40, 2.45, 1.60, 1.45, 1.38,
   1.32, 1.50, 1.45, 1.30, 2.10, 1.35, 1.33, 1.30, 1.32, 1.28, 1.27, 1.28, 1.30, 2.04, 1.60, 1.38, 1.25],
  [1.26, 1.30, 1.28, 1.31, 1.33, 1.38, 1.33, 1.31, 1.32, 1.29],
  [1.35, 1.50, 1.95, 1.55, 1.32, 1.28],
  [1.35, 1.78, 1.42],
  [1.31, 1.33, 1.45, 1.40, 1.36, 1.34],
  [1.33, 1.42, 1.32],
  [1.30, 1.32, 1.33, 1.30, 1.32, 1.33, 1.34, 1.36, 1.32]
];
const p4PhyX = [
  21.023, 21.043, 21.058, 21.073, 21.092, null,
  21.306, 21.324, 21.34, 21.358, 21.373, 21.39, 21.406, 21.424, 21.441, 21.458, null,
  21.508, 21.523, null,
  21.709, 21.724, 21.744, 21.759, 21.776, 21.791, 21.806, null,
  21.857, 21.872, 21.891, 21.908, 21.926, 21.94, 21.948, null,
  22.016, 22.026, 22.042, 22.049, null,
  22.958, 22.975, 22.99, 23.0, null,
  23.325, 23.332
];
const p4PhyY = [
  1.21, 0.91, 0.32, 1.41, 0.59, null,
  0.89, 0.33, 0.21, 0.78, 1.85, 1.22, 0.72, 0.98, 0.13, 0.61, null,
  0.33, 0.32, null,
  1.07, 1.03, 1.95, 1.03, 1.33, 0.68, -0.13, null,
  2.25, 1.64, 0.41, 1.36, 0.65, 1.77, -0.13, null,
  -0.13, 1.75, 1.28, -0.13, null,
  -0.13, 1.78, 0.86, -0.13, null,
  0.24, -0.13
];
const p4PhyBandX = [
  21.016, 21.03, 21.05, 21.07, 21.085, 21.10, null, 21.132, 21.149, null,
  21.30, 21.33, 21.36, 21.375, 21.40, 21.42, 21.44, 21.466, null, 21.50, 21.516, null,
  21.65, 21.665, null, 21.70, 21.73, 21.76, 21.79, 21.816, null,
  21.85, 21.88, 21.91, 21.93, 21.95, null, 21.983, 22.0, 22.02, 22.05, 22.067, null,
  22.60, 22.618, null, 22.652, 22.667, 22.682, null, 22.766, 22.784, null, 22.901, 22.916, null,
  22.952, 22.975, 23.0, 23.016, null, 23.082, 23.101, null, 23.268, 23.284, null,
  23.319, 23.351, null, 23.434, 23.46, 23.475, 23.49, 23.518, null, 23.934, 23.951
];
const p4PhyBandTop = [
  1.0, 1.1, 1.05, 1.15, 1.1, 1.0, null, 0.6, 0.6, null,
  1.08, 1.1, 1.1, 1.42, 1.38, 1.2, 1.3, 1.2, null, 1.17, 1.17, null,
  1.0, 1.0, null, 1.1, 1.15, 1.0, 1.1, 1.05, null,
  1.45, 1.4, 1.25, 1.2, 1.2, null, 1.3, 1.2, 1.2, 1.05, 0.95, null,
  0.6, 0.6, null, 1.05, 1.0, 1.0, null, 0.5, 0.5, null, 0.47, 0.47, null,
  1.15, 1.2, 1.0, 0.9, null, 0.7, 0.7, null, 0.95, 0.95, null,
  1.1, 1.1, null, 0.9, 1.1, 0.95, 1.0, 0.9, null, 1.0, 1.0
];
const p4AdiX = [
  21.023, 21.043, 21.058, 21.075, 21.09, null,
  21.306, 21.324, 21.34, 21.358, 21.373, 21.39, 21.406, 21.424, 21.457, null,
  21.508, 21.53, null,
  21.709, 21.726, 21.744, 21.759, 21.776, 21.791, 21.808, null,
  21.857, 21.875, 21.891, 21.908, 21.926, 21.94, 21.957, null,
  21.993, 22.009, 22.026, 22.042, 22.057, null,
  22.659, 22.675, null,
  22.96, 22.975, 22.993, 23.009, null,
  23.46, 23.493, 23.508
];
const p4AdiY = [
  1.32, 1.15, 1.06, 1.77, 1.07, null,
  1.56, 2.33, 1.77, 1.71, 2.23, 2.30, 2.55, 2.71, 1.15, null,
  2.33, 1.34, null,
  1.24, 1.41, 2.23, 2.41, 2.52, 1.64, 2.06, null,
  2.97, 2.93, 1.71, 2.30, 1.94, 2.04, 1.04, null,
  1.26, 1.07, 2.11, 2.24, 1.37, null,
  1.81, 1.06, null,
  1.41, 2.20, 1.75, 1.02, null,
  1.46, 1.88, 1.28
];
const p4AdiUnc = [
  0.2, 0.2, 0.2, 0.15, 0.15, null,
  0.25, 0.12, 0.2, 0.15, 0.15, 0.12, 0.1, 0.08, 0.2, null,
  0.2, 0.2, null,
  0.15, 0.15, 0.12, 0.1, 0.08, 0.15, 0.1, null,
  0.07, 0.07, 0.15, 0.1, 0.12, 0.1, 0.2, null,
  0.15, 0.15, 0.12, 0.1, 0.15, null,
  0.2, 0.2, null,
  0.2, 0.12, 0.15, 0.2, null,
  0.2, 0.15, 0.2
];
const p4AdiMarkX = [21.656, 22.608, 23.092, 23.275];
const p4AdiMarkY = [1.48, 1.13, 1.46, 1.36];
const p4AdiMarkFlagX = [21.14, 22.775, 22.909, 23.175, 23.559, 23.942];
const p4AdiMarkFlagY = [1.07, 1.07, 1.07, 2.70, 3.23, 1.07];
const p4PhyMarkX = [21.656, 23.092, 23.275];
const p4PhyMarkY = [0.92, 1.20, 0.53];
const p4PhyMarkFlagX = [21.14, 23.942];
const p4PhyMarkFlagY = [0.50, 0.49];

// panel 5: Phy-Iter data-quality flag (null = no retrieval)
const p5DqFlag = [
  5, null, 0, 0, null, 3, 0, 0, null, 5,
  5, 4, null, 5, 5, 5, 5, 5, 5, 5,
  5, 5, 5, 5, 5, 0, 0, 0, 0, 0,
  0, 0, 0, 0, 0, 0, 0, 0, 5, 5,
  null, 3, 0, 5, 5, 5, 5, 5, 5, 5,
  5, 5, 5, 0, 5, 5, null, 0, 0, 0,
  0, 0, 0, 0, null, 3, 5, 5, null, 0,
  0, 0, 0, 0, 0, 0, null, 4, 5, 0,
  null, 4, 0, 0, 0, null, 5, 5, 5, 5,
  5, 5, 5, 5, 5, 5, 5, 5, 5, 5,
  5, 5, 5, 5, 5, 5, 5, 5, 5, 5,
  5, 5, 5, 5, 5, 5, 5, 5, 5, 5,
  5, 5, 5, 5, 5, 5, 5, 5, 5, 0,
  5, 5, null, 0, 4, 5, 5, 5, 5, 5,
  5, 5, 4, 5, 5, 5, 5, 5, 5, 5,
  5, 5, null, 4, 5, 5, null, 3, 0, 0,
  null, 4, 5, 5, 5, 5, 5, 0, null, 5,
  5, 5, 5, null, 3, 5, 5, 5, 5, 5,
  5, null, 0, 5, 5, null, 3, 4, null, 5,
  5, 5, 5, 5, 5, 0, 0, 0, 0, 0,
  0, null, 5, 5, null, 3, 5, 5, 5, 5,
  5, 5, 5, 5, 5, 5, 5, 5, 5, 5,
  5, 5, 5, 5, 5, 5, 5, 5, 5, 5,
  5, 5, 5, 5, 5, 4, null, 5, 5, 5,
  5
];

// ---------- helpers ----------
function evenSeries(vals, t0, dt) {
  return vals.map((v, i) => ({ x: +(t0 + i * dt).toFixed(4), y: v }));
}
function pairSeries(xs, ys) {
  return xs.map((x, i) => x == null ? { x: xs[i - 1], y: null } : { x: x, y: ys[i] });
}
function bandSeries(xs, ys, unc, sign) {
  return xs.map((x, i) => x == null || ys[i] == null
    ? { x: xs[i - 1], y: null }
    : { x: x, y: ys[i] + sign * unc[i] });
}
function segSeries(starts, segs, dt) {
  const out = [];
  starts.forEach((s, k) => {
    evenSeries(segs[k], s, dt).forEach(p => out.push(p));
    out.push({ x: out[out.length - 1].x, y: null });
  });
  return out;
}
function spanSeries(spans, top) {
  const out = [];
  spans.forEach(([a, b]) => { out.push({ x: a, y: top }, { x: b, y: top }, { x: b, y: null }); });
  return out;
}

// ---------- style ----------
const axisBlue = '#0072BD';
const axisDark = '#262626';
const cBlue = '#0000FF';
const cLight = '#ADD8E6';
const cOrange = '#FF8C00';
const cPurple = '#800080';
const cPeach = 'rgba(255,222,180,0.75)';
const clear = 'rgba(0,0,0,0)';
const font = 'DejaVu Sans';
Chart.defaults.font.family = font;

const frame = {
  id: 'frame',
  afterDatasetsDraw(chart) {
    const { ctx, chartArea: a } = chart;
    const x = chart.scales.x, y = chart.scales.y;
    ctx.save();
    ctx.lineCap = 'butt';
    ctx.lineWidth = 2;
    ctx.strokeStyle = axisDark;
    x.ticks.forEach(t => {
      const px = Math.round(x.getPixelForValue(t.value));
      ctx.beginPath(); ctx.moveTo(px, a.bottom); ctx.lineTo(px, a.bottom - 29); ctx.stroke();
    });
    ctx.strokeStyle = axisBlue;
    y.ticks.forEach(t => {
      const py = Math.round(y.getPixelForValue(t.value));
      ctx.beginPath(); ctx.moveTo(a.left, py); ctx.lineTo(a.left + 27, py); ctx.stroke();
    });
    ctx.lineWidth = 2.5;
    ctx.beginPath();
    ctx.moveTo(a.left, a.top); ctx.lineTo(a.left, a.bottom);
    ctx.moveTo(a.right, a.top); ctx.lineTo(a.right, a.bottom);
    ctx.stroke();
    ctx.strokeStyle = axisDark; ctx.lineWidth = 3;
    ctx.beginPath(); ctx.moveTo(a.left, a.bottom); ctx.lineTo(a.right, a.bottom); ctx.stroke();
    ctx.restore();
  }
};

const boxLegend = {
  id: 'boxLegend',
  afterDatasetsDraw(chart, args, opts) {
    if (!opts || opts.x == null) return;
    const { ctx, chartArea: a } = chart;
    ctx.save();
    ctx.font = '39px "' + font + '"';
    ctx.textBaseline = 'middle';
    ctx.textAlign = 'left';
    ctx.fillStyle = '#000';
    let row = 0;
    chart.data.datasets.forEach(ds => {
      if (!ds.legendText) return;
      const lines = [].concat(ds.legendText);
      const mid = a.top + opts.y + (row + (lines.length - 1) / 2) * opts.rowH;
      ctx.strokeStyle = ds.borderColor;
      ctx.lineWidth = ds.legendWidth || ds.borderWidth;
      ctx.beginPath();
      ctx.moveTo(a.left + opts.x, mid);
      ctx.lineTo(a.left + opts.x + 231, mid);
      ctx.stroke();
      lines.forEach((s, k) => ctx.fillText(s, a.left + opts.x + 257, a.top + opts.y + (row + k) * opts.rowH));
      row += lines.length;
    });
    ctx.restore();
  }
};

function line(data, color, width, order, extra) {
  return Object.assign({ data: data, borderColor: color, borderWidth: width, order: order, fill: false }, extra || {});
}
function fillTo(data, color, target, order) {
  return { data: data, borderColor: clear, borderWidth: 0, backgroundColor: color, fill: target, order: order };
}
function marks(data, color, order) {
  return { data: data, showLine: false, borderColor: color, pointStyle: 'crossRot',
           pointRadius: 13, pointBorderWidth: 7, pointBorderColor: color, order: order };
}

function makePanel(id, p) {
  const cv = document.getElementById(id);
  cv.width = 3825; cv.height = 1124;
  cv.style.width = '3825px'; cv.style.height = '1124px';
  cv.style.top = (p.top - 66) + 'px';
  const padLeft = p.labelX - 27;
  return new Chart(cv, {
    type: 'line',
    data: { datasets: p.datasets },
    options: {
      responsive: false,
      animation: false,
      devicePixelRatio: 1,
      events: [],
      layout: { padding: { left: padLeft, right: 3825 - 3002, top: 66, bottom: 0 } },
      elements: {
        point: { radius: 0 },
        line: { tension: 0, borderJoinStyle: 'round', borderCapStyle: 'round' }
      },
      plugins: {
        legend: { display: false },
        tooltip: { enabled: false },
        boxLegend: p.legend || {}
      },
      scales: {
        x: {
          type: 'linear', min: 21, max: 24,
          afterFit: s => { s.height = 153; },
          grid: { display: false, drawTicks: false },
          border: { display: false },
          ticks: { stepSize: 0.5, autoSkip: false, maxRotation: 0, padding: 30,
                   color: axisDark, font: { size: 38 },
                   callback: v => String(+v.toFixed(1)) },
          title: { display: true, text: 'UTC hours on 20241024', color: axisDark,
                   font: { size: 46 }, padding: 0 }
        },
        y: {
          type: 'linear', min: p.ymin, max: p.ymax,
          afterFit: s => { s.width = 376 - padLeft; },
          grid: { display: false, drawTicks: false },
          border: { display: false },
          ticks: { stepSize: p.step, autoSkip: false, includeBounds: false, padding: 31,
                   color: axisBlue, font: { size: 38 },
                   callback: v => String(+v.toFixed(2)) },
          title: { display: true, text: p.title, color: axisBlue, font: { size: 45 }, padding: 0 }
        }
      }
    },
    plugins: [frame, boxLegend]
  });
}

// ---------- panels ----------
makePanel('bt23', {
  top: 295, labelX: 241, ymin: 17.03, ymax: 27.96, step: 2,
  title: 'Zenith BT 23 GHz, K',
  legend: { x: 1564, y: 99, rowH: 58.5 },
  datasets: [
    fillTo(bandSeries(p1PhyX, p1PhyY, p1PhyUnc, 1), cPeach, '+1', 10),
    fillTo(bandSeries(p1PhyX, p1PhyY, p1PhyUnc, -1), clear, false, 10),
    line(evenSeries(p1Mwr2c, tStart, mwrStep), cBlue, 3.5, 3, { legendText: 'MWR 2C (tan = wet window)' }),
    line(evenSeries(p1Mwr3c, tStart, mwrStep), cLight, 5, 2, { legendText: 'MWR 3C' }),
    line(pairSeries(p1PhyX, p1PhyY), cOrange, 9, 1, { legendText: 'Phy-Iter', legendWidth: 8 })
  ]
});

makePanel('bt31', {
  top: 1419, labelX: 239, ymin: 12.49, ymax: 28.29, step: 2,
  title: 'Zenith BT 31 GHz, K',
  legend: { x: 1596, y: 100, rowH: 58.5 },
  datasets: [
    fillTo(bandSeries(p2PhyX, p2PhyY, p2PhyUnc, 1), cPeach, '+1', 10),
    fillTo(bandSeries(p2PhyX, p2PhyY, p2PhyUnc, -1), clear, false, 10),
    line(evenSeries(p2Mwr2c, tStart, mwrStep), cBlue, 3.5, 3, { legendText: 'MWR2C' }),
    line(evenSeries(p2Mwr3c, tStart, mwrStep), cLight, 5, 2, { legendText: 'MWR 3C (tan = rain flag)' }),
    line(pairSeries(p2PhyX, p2PhyY), cOrange, 9, 1, { legendText: 'Phy-Iter', legendWidth: 8 })
  ]
});

makePanel('pwv', {
  top: 2544, labelX: 202, ymin: 0.756, ymax: 1.018, step: 0.05,
  title: 'Precip. Water Vapor, mm',
  legend: { x: 954, y: 116, rowH: 57.3 },
  datasets: [
    fillTo(bandSeries(p3PhyX, p3PhyY, p3PhyUnc, 1), cPeach, '+1', 10),
    fillTo(bandSeries(p3PhyX, p3PhyY, p3PhyUnc, -1), clear, false, 10),
    line(evenSeries(p3Mwr2c, tStart, mwrStep), cBlue, 3.5, 4, { legendText: 'MWR 2C PWV' }),
    line(evenSeries(p3Mwr3c, tStart, mwrStep), cLight, 5, 3, { legendText: 'MWR 3C PWV' }),
    line(pairSeries(p3PhyX, p3PhyY), cOrange, 8, 2,
         { legendText: ['Phy-Iter PWV', '(tan = MWR 2C only)', '(brown = MWR 3C only)'], legendWidth: 8 }),
    fillTo(spanSeries(p3MwrOnlyFlags, 1.018), 'rgba(228,212,186,0.95)', 'start', 1)
  ]
});

makePanel('lwp', {
  top: 3668, labelX: 233, ymin: -0.1, ymax: 3.6, step: 0.5,
  title: 'log10 Liquid Water Path, log10(g/m\u00B2)',
  legend: { x: 1050, y: 68, rowH: 57.7 },
  datasets: [
    fillTo(spanSeries(p4CloudSpans, 3.6), 'rgb(253,253,128)', 'start', 30),
    fillTo(spanSeries(p4FlagStripes, 3.6), 'rgb(228,228,228)', 'start', 29),
    fillTo(pairSeries(p4PhyBandX, p4PhyBandTop), cPeach, 'start', 28),
    fillTo(bandSeries(p4AdiX, p4AdiY, p4AdiUnc, 1), 'rgba(150,60,160,0.18)', '+1', 27),
    fillTo(bandSeries(p4AdiX, p4AdiY, p4AdiUnc, -1), clear, false, 27),
    marks(pairSeries(p4AdiMarkFlagX, p4AdiMarkFlagY), 'rgba(150,80,150,0.75)', 26),
    marks(pairSeries(p4PhyMarkFlagX, p4PhyMarkFlagY), 'rgba(235,160,90,0.85)', 26),
    line(evenSeries(p4Mwr2cClear, tStart, mwrStep), '#808080', 3.5, 12),
    line(evenSeries(p4Mwr3cClear, tStart, 0.02), 'rgb(212,232,130)', 5, 11),
    line(segSeries(p4CloudSegStart, p4Mwr2cSeg, mwrStep), cBlue, 3.5, 9, { legendText: 'MWR 2C LWP' }),
    line(segSeries(p4CloudSegStart, p4Mwr3cSeg, mwrStep), cLight, 5, 8, { legendText: 'MWR 3C LWP' }),
    line(pairSeries(p4PhyX, p4PhyY), cOrange, 8, 7, { legendText: 'Phy-Iter LWP', legendWidth: 8 }),
    line(pairSeries(p4AdiX, p4AdiY), cPurple, 5, 6, { legendText: 'Adiabatic LWP' }),
    marks(pairSeries(p4AdiMarkX, p4AdiMarkY), cPurple, 5),
    marks(pairSeries(p4PhyMarkX, p4PhyMarkY), cOrange, 5)
  ]
});

makePanel('dq', {
  top: 4793, labelX: 242, ymin: -0.52, ymax: 11.53, step: 2,
  title: 'MWR Phy Iter DQ Flag',
  legend: null,
  datasets: [
    { data: evenSeries(p5DqFlag, tStart, dqStep), showLine: false, pointRadius: 5,
      pointBackgroundColor: cOrange, pointBorderWidth: 0, borderColor: cOrange }
  ]
});
</script>
</body>
</html>
